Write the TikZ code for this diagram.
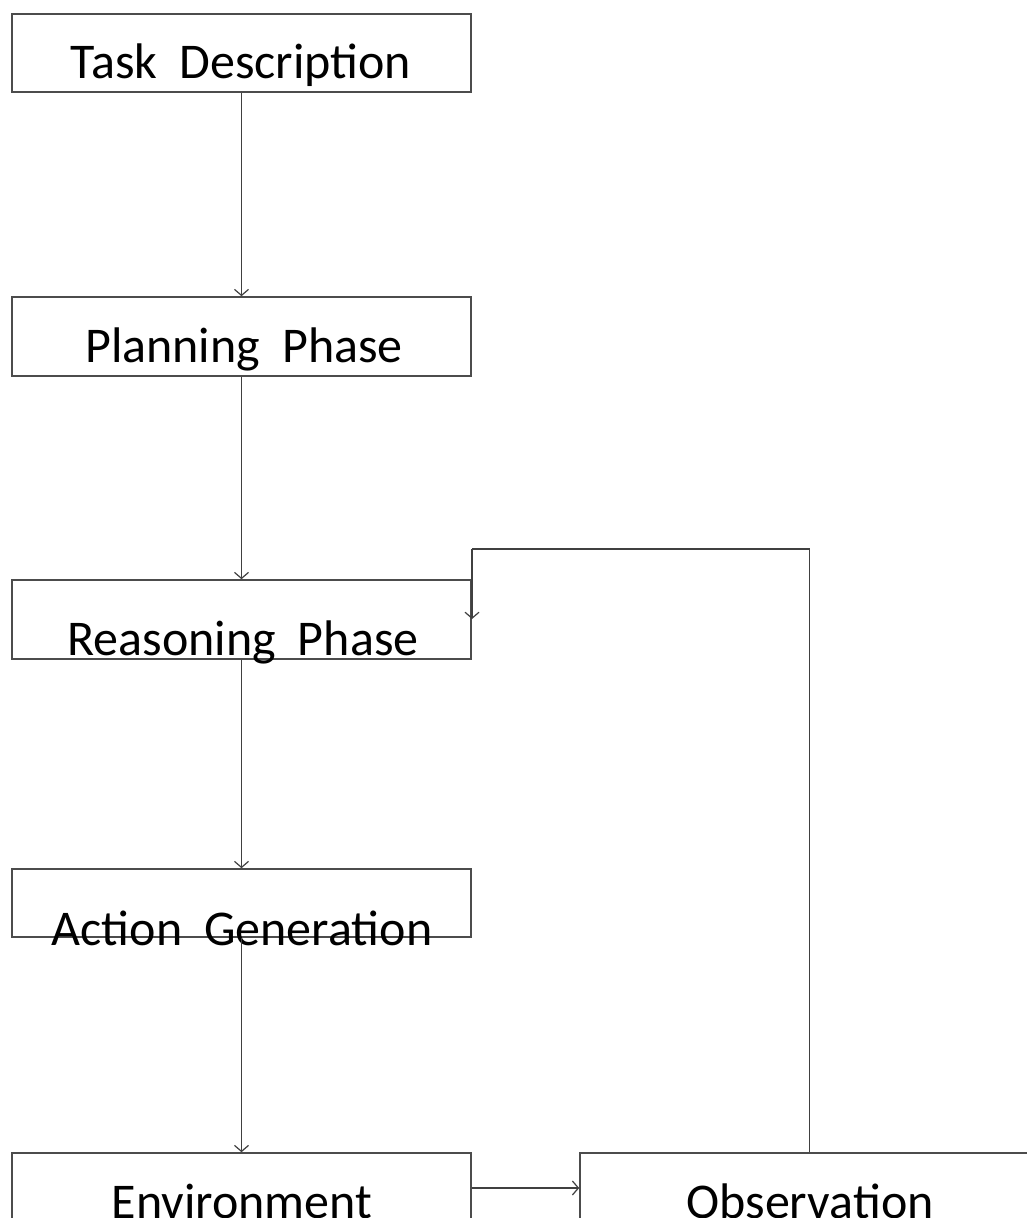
\documentclass[tikz,border=0pt]{standalone}
\usepackage{fontspec}
\setmainfont{Carlito}
\usetikzlibrary{arrows.meta}
\newcommand{\mylblfont}{\fontsize{50}{60}\selectfont\spaceskip=22pt plus 0pt minus 0pt\relax}
\begin{document}
\begin{tikzpicture}[x=1pt,y=-1pt,
  box/.style={draw=black!70, line width=1.6pt, minimum width=459pt, inner sep=0pt, fill=none},
  lbl/.style={anchor=base, inner sep=0pt, font=\mylblfont, text=black},
  conn/.style={draw=black!75, line width=1.6pt, -{Straight Barb[length=6pt,width=14pt,line width=1.2pt]}},
  plain/.style={draw=black!75, line width=1.6pt}]
\useasboundingbox (0,0) rectangle (1027,1218);
\clip (0,0) rectangle (1027,1218);
\fill[white] (0,0) rectangle (1027,1218);

\node[box, minimum height=78pt] (task)   at (241.5,53)    {};
\node[box, minimum height=79pt] (plan)   at (241.5,336.5) {};
\node[box, minimum height=79pt] (reason) at (241.5,619.5) {};
\node[box, minimum height=68pt] (action) at (241.5,903)   {};
\node[box, minimum height=78pt] (env)    at (241.5,1192)  {};
\node[box, minimum height=78pt] (obs)    at (809.5,1192)  {};

\node[lbl] (taskL)   at (241,78)   {Task Description};
\node[lbl] (planL)   at (244,362)  {Planning Phase};
\node[lbl] (reasonL) at (243,655)  {Reasoning Phase};
\node[lbl] (actionL) at (242,945)  {Action Generation};
\node[lbl] (envL)    at (242,1218) {Environment};
\node[lbl] (obsL)    at (810,1218) {Observation};

\draw[conn] (task.south) -- (plan.north);
\draw[conn] (plan.south) -- (reason.north);
\draw[conn] (reason.south) -- (action.north);
\draw[conn] (action.south) -- (env.north);
\draw[conn] ([yshift=4pt]env.east) -- ([yshift=4pt]obs.west);

\coordinate (fbcorner) at (472,549);
\coordinate (fbtip) at (472,619);
\draw[plain] (obs.north) |- (fbcorner);
\draw[conn] (fbcorner) -- (fbtip);
\end{tikzpicture}
\end{document}
